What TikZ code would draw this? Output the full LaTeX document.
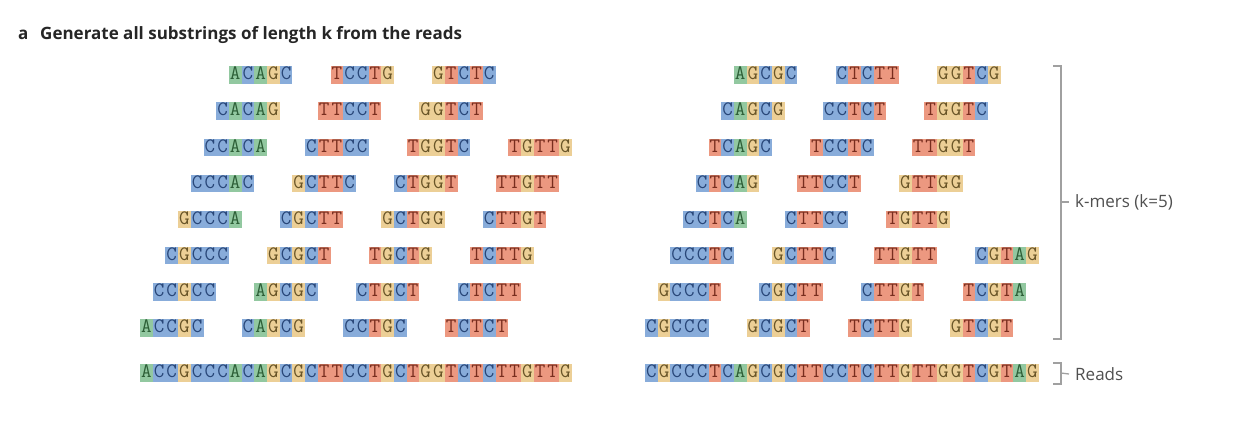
\documentclass[tikz,border=0pt]{standalone}
\usepackage{fontspec}
\setmainfont{Open Sans}
\definecolor{bgA}{RGB}{146,200,160}
\definecolor{bgC}{RGB}{136,172,218}
\definecolor{bgG}{RGB}{236,207,150}
\definecolor{bgT}{RGB}{236,152,128}
\definecolor{fgA}{RGB}{45,95,55}
\definecolor{fgC}{RGB}{40,70,120}
\definecolor{fgG}{RGB}{105,85,40}
\definecolor{fgT}{RGB}{120,45,30}
\definecolor{brkgray}{RGB}{160,160,160}
\definecolor{txtgray}{RGB}{80,80,80}
\newcommand\dnabase[1]{{\fboxsep=0pt\colorbox{bg#1}{\rule[-4pt]{0pt}{17.5pt}\makebox[12.7pt]{\textcolor{fg#1}{#1}}}}}
\def\dnaloop#1{\ifx\relax#1\else\dnabase{#1}\expandafter\dnaloop\fi}
\newcommand\dnaseq[1]{{\ttfamily\fontsize{20.5}{20}\selectfont\dnaloop#1\relax}}
\tikzset{
  kmer/.style={anchor=west, inner sep=0pt, outer sep=0pt},
  brk/.style={draw=brkgray, line width=1.3pt},
  lbl/.style={anchor=west, inner sep=0pt, text=txtgray, font=\fontsize{17}{19}\selectfont},
  ttl/.style={anchor=west, inner sep=0pt, text=black!85, font=\bfseries\fontsize{17}{19}\selectfont}
}
\newcommand\km[4]{\node[kmer] (#1) at ({\xo+#2*12.7},{328-#3*36.14}) {\dnaseq{#4}};}
\begin{document}
\begin{tikzpicture}[x=1pt,y=-1pt]
\useasboundingbox[fill=white] (0,0) rectangle (1246,424);
\node[ttl] (tla) at (18,35) {a};
\node[ttl] (tlt) at (40,35) {Generate all substrings of length k from the reads};
% left
\def\xo{140}
\km{L0a}{0}{0}{ACCGC}\km{L0b}{8}{0}{CAGCG}\km{L0c}{16}{0}{CCTGC}\km{L0d}{24}{0}{TCTCT}
\km{L1a}{1}{1}{CCGCC}\km{L1b}{9}{1}{AGCGC}\km{L1c}{17}{1}{CTGCT}\km{L1d}{25}{1}{CTCTT}
\km{L2a}{2}{2}{CGCCC}\km{L2b}{10}{2}{GCGCT}\km{L2c}{18}{2}{TGCTG}\km{L2d}{26}{2}{TCTTG}
\km{L3a}{3}{3}{GCCCA}\km{L3b}{11}{3}{CGCTT}\km{L3c}{19}{3}{GCTGG}\km{L3d}{27}{3}{CTTGT}
\km{L4a}{4}{4}{CCCAC}\km{L4b}{12}{4}{GCTTC}\km{L4c}{20}{4}{CTGGT}\km{L4d}{28}{4}{TTGTT}
\km{L5a}{5}{5}{CCACA}\km{L5b}{13}{5}{CTTCC}\km{L5c}{21}{5}{TGGTC}\km{L5d}{29}{5}{TGTTG}
\km{L6a}{6}{6}{CACAG}\km{L6b}{14}{6}{TTCCT}\km{L6c}{22}{6}{GGTCT}
\km{L7a}{7}{7}{ACAGC}\km{L7b}{15}{7}{TCCTG}\km{L7c}{23}{7}{GTCTC}
\node[kmer] (Lread) at (140,373) {\dnaseq{ACCGCCCACAGCGCTTCCTGCTGGTCTCTTGTTG}};
% right
\def\xo{645}
\km{R0a}{0}{0}{CGCCC}\km{R0b}{8}{0}{GCGCT}\km{R0c}{16}{0}{TCTTG}\km{R0d}{24}{0}{GTCGT}
\km{R1a}{1}{1}{GCCCT}\km{R1b}{9}{1}{CGCTT}\km{R1c}{17}{1}{CTTGT}\km{R1d}{25}{1}{TCGTA}
\km{R2a}{2}{2}{CCCTC}\km{R2b}{10}{2}{GCTTC}\km{R2c}{18}{2}{TTGTT}\km{R2d}{26}{2}{CGTAG}
\km{R3a}{3}{3}{CCTCA}\km{R3b}{11}{3}{CTTCC}\km{R3c}{19}{3}{TGTTG}
\km{R4a}{4}{4}{CTCAG}\km{R4b}{12}{4}{TTCCT}\km{R4c}{20}{4}{GTTGG}
\km{R5a}{5}{5}{TCAGC}\km{R5b}{13}{5}{TCCTC}\km{R5c}{21}{5}{TTGGT}
\km{R6a}{6}{6}{CAGCG}\km{R6b}{14}{6}{CCTCT}\km{R6c}{22}{6}{TGGTC}
\km{R7a}{7}{7}{AGCGC}\km{R7b}{15}{7}{CTCTT}\km{R7c}{23}{7}{GGTCG}
\node[kmer] (Rread) at (645,373) {\dnaseq{CGCCCTCAGCGCTTCCTCTTGTTGGTCGTAG}};
% brackets
\node[lbl] (klab) at (1075,202) {k-mers (k=5)};
\node[lbl] (rlab) at (1075,374) {Reads};
\coordinate (kmid) at (1061,202);
\coordinate (rmid) at (1061,373);
\draw[brk] (1053,66) -- (1061,66) -- (1061,339) -- (1053,339);
\draw[brk] (kmid) -- ([xshift=-6pt]klab.west);
\draw[brk] (1053,363) -- (1061,363) -- (1061,384) -- (1053,384);
\draw[brk] (rmid) -- ([xshift=-6pt]rlab.west);
\end{tikzpicture}
\end{document}
